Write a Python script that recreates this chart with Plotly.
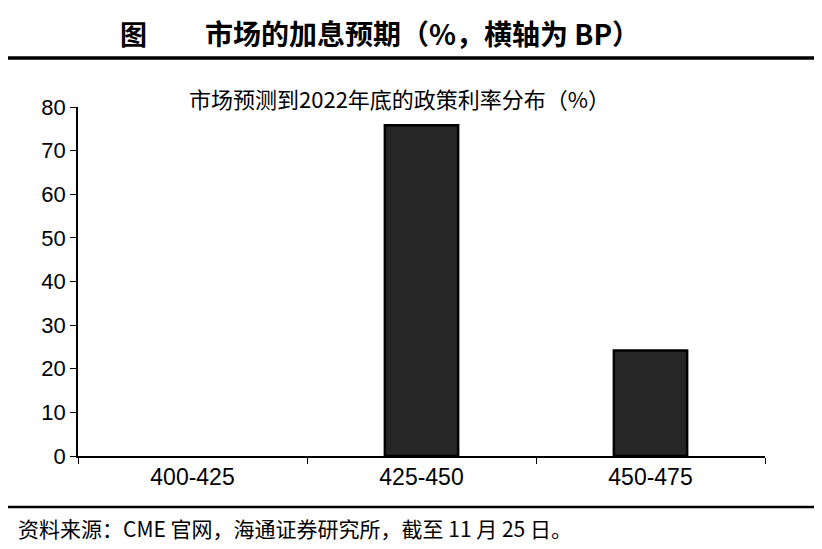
import plotly.graph_objects as go

categories = ["400-425", "425-450", "450-475"]
values = [0, 75.8, 24.2]
y_ticks = [0, 10, 20, 30, 40, 50, 60, 70, 80]

title_label = "图"
title_text = "市场的加息预期（%，横轴为 BP）"
subtitle_text = "市场预测到2022年底的政策利率分布（%）"
source_text = "资料来源：CME 官网，海通证券研究所，截至 11 月 25 日。"

cjk = "Noto Sans CJK SC"
latin = "Liberation Sans, Arial"

# page body has an 8px margin: figure is drawn 8px right/down
OFF = 8
W, H = 822 - OFF, 549 - OFF
PL, PR, PT, PB = 78 - OFF, 765 - OFF, 107 - OFF, 456 - OFF  # plot area in figure px
PW, PH = PR - PL, PB - PT

fig = go.Figure()
fig.add_trace(go.Bar(
    x=categories, y=values, width=0.32,
    marker=dict(color="#262626",
                line=dict(color="#000000", width=[0 if v == 0 else 2.5 for v in values])),
    showlegend=False,
))

fig.update_layout(
    width=W, height=H,
    margin=dict(l=PL, r=W - PR, t=PT, b=H - PB, pad=0),
    paper_bgcolor="white", plot_bgcolor="white",
    xaxis=dict(
        showline=True, linecolor="#000000", linewidth=1.5,
        ticks="outside", tickson="boundaries", ticklen=6, tickcolor="#000000", tickwidth=1.2,
        tickfont=dict(family=latin, size=23, color="#000000"),
        showgrid=False, zeroline=False,
    ),
    yaxis=dict(
        range=[0, 80], tickvals=y_ticks,
        showline=True, linecolor="#000000", linewidth=1.5,
        ticks="outside", ticklen=6, tickcolor="#000000", tickwidth=1.2,
        tickfont=dict(family=latin, size=22, color="#000000"),
        showgrid=False, zeroline=False,
    ),
    font=dict(family=latin),
)

def fx(xpx):
    return (xpx - OFF - PL) / PW

def fy(ypx):
    return (PB - (ypx - OFF)) / PH

def hline(ypx, w):
    fig.add_shape(type="line", xref="x domain", yref="y domain",
                  x0=fx(6), x1=fx(815), y0=fy(ypx), y1=fy(ypx),
                  line=dict(color="black", width=w))

hline(5, 3.5)
hline(58, 3.5)
hline(507, 2.5)

def text(s, xpx, ypx, size, family, anchor="center"):
    fig.add_annotation(xref="x domain", yref="y domain",
                       x=fx(xpx), y=fy(ypx),
                       text=s, showarrow=False, xanchor=anchor, yanchor="middle",
                       font=dict(family=family, size=size, color="#000000"))

text("<b>" + title_label + "</b>", 133, 33, 27, cjk)
text("<b>" + title_text + "</b>", 422, 33, 28, cjk + ", " + latin)
text(subtitle_text, 399, 98, 22, cjk)
text(source_text, 16, 528, 21, cjk, anchor="left")

fig.write_html("out.html")
